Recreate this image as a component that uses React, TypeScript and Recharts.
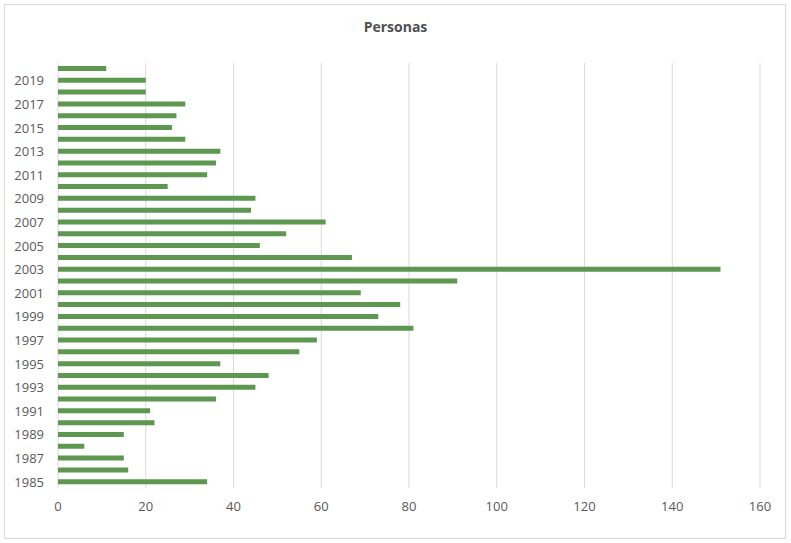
import { BarChart, Bar, XAxis, YAxis, CartesianGrid } from "recharts";

const years = [
  "1985", "1986", "1987", "1988", "1989", "1990", "1991", "1992", "1993",
  "1994", "1995", "1996", "1997", "1998", "1999", "2000", "2001", "2002",
  "2003", "2004", "2005", "2006", "2007", "2008", "2009", "2010", "2011",
  "2012", "2013", "2014", "2015", "2016", "2017", "2018", "2019", "2020",
];

const personas = [
  34, 16, 15, 6, 15, 22, 21, 36, 45,
  48, 37, 55, 59, 81, 73, 78, 69, 91,
  151, 67, 46, 52, 61, 44, 45, 25, 34,
  36, 37, 29, 26, 27, 29, 20, 20, 11,
];

const xTicks = [0, 20, 40, 60, 80, 100, 120, 140, 160];

const data = years.map((year, i) => ({ year, personas: personas[i] }));

const font = "'Open Sans', 'Liberation Sans', sans-serif";

const App = () => {
  return (
    <div style={{ position: "absolute", left: 0, top: 0, width: 791, height: 543, background: "#fff" }}>
      <div
        style={{
          position: "absolute",
          left: 4,
          top: 4,
          width: 782,
          height: 535,
          border: "1px solid #d9d9d9",
          boxSizing: "border-box",
        }}
      />
      <div
        style={{
          position: "absolute",
          left: 0,
          top: 17,
          width: 791,
          textAlign: "center",
          fontFamily: font,
          fontWeight: 700,
          fontSize: 14,
          color: "#4f4f4f",
        }}
      >
        Personas
      </div>
      <div style={{ position: "absolute", left: 0, top: 0 }}>
        <BarChart
          width={791}
          height={543}
          data={data}
          layout="vertical"
          margin={{ top: 63, right: 31, bottom: 25, left: 0 }}
          barCategoryGap={3}
        >
          <CartesianGrid horizontal={false} stroke="#d9d9d9" strokeWidth={1} />
          <XAxis
            type="number"
            domain={[0, 160]}
            ticks={xTicks}
            axisLine={false}
            tickLine={false}
            tickMargin={8}
            height={30}
            tick={{ fill: "#595959", fontSize: 13, fontFamily: font }}
          />
          <YAxis
            type="category"
            dataKey="year"
            reversed
            interval={1}
            width={58}
            axisLine={false}
            tickLine={false}
            tickMargin={8}
            tick={{ fill: "#595959", fontSize: 13, fontFamily: font }}
          />
          <Bar dataKey="personas" fill="#5e9750" barSize={5} isAnimationActive={false} />
        </BarChart>
      </div>
    </div>
  );
};

export default App;
